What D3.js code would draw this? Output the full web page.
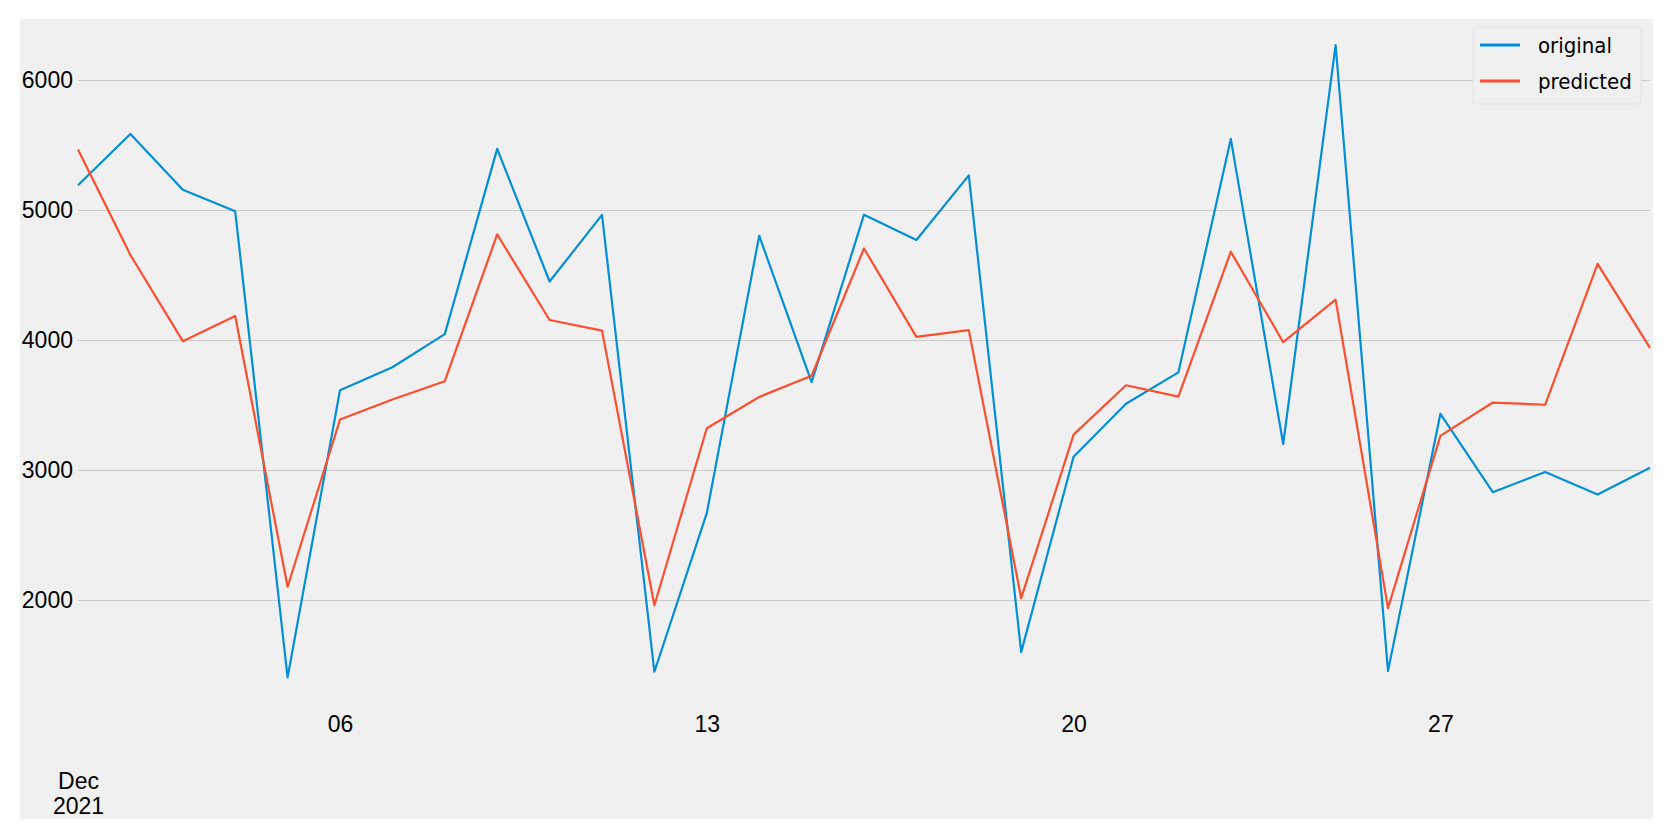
<!DOCTYPE html>
<html>
<head>
<meta charset="utf-8">
<script src="https://cdn.jsdelivr.net/npm/d3@7"></script>
<style>
  body { margin: 0; background: #fff; }
  svg { display: block; font-family: "DejaVu Sans", sans-serif; font-stretch: condensed; }
  .axis text { font-size: 23px; fill: #000; }
  .legend text { font-size: 22px; fill: #000; }
</style>
</head>
<body>
<svg id="chart" width="1675" height="839"></svg>
<script>
const dates = [
  "2021-12-01", "2021-12-02", "2021-12-03", "2021-12-04", "2021-12-05", "2021-12-06",
  "2021-12-07", "2021-12-08", "2021-12-09", "2021-12-10", "2021-12-11", "2021-12-12",
  "2021-12-13", "2021-12-14", "2021-12-15", "2021-12-16", "2021-12-17", "2021-12-18",
  "2021-12-19", "2021-12-20", "2021-12-21", "2021-12-22", "2021-12-23", "2021-12-24",
  "2021-12-25", "2021-12-26", "2021-12-27", "2021-12-28", "2021-12-29", "2021-12-30",
  "2021-12-31"
];

const original = [
  5190, 5585, 5155, 4990, 1405, 3613, 3790, 4045, 5470, 4450, 4962, 1448,
  2668, 4802, 3676, 4964, 4769, 5266, 1599, 3102, 3510, 3751, 5547, 3200,
  6269, 1453, 3432, 2829, 2985, 2812, 3017
];

const predicted = [
  5466, 4654, 3991, 4184, 2102, 3388, 3542, 3683, 4812, 4154, 4072, 1960,
  3321, 3562, 3725, 4704, 4024, 4076, 2014, 3272, 3652, 3564, 4679, 3983,
  4311, 1937, 3262, 3519, 3502, 4586, 3939
];

const yTicks = [2000, 3000, 4000, 5000, 6000];
const xTickDates = ["2021-12-01", "2021-12-06", "2021-12-13", "2021-12-20", "2021-12-27"];

const seriesNames = ["original", "predicted"];
const colors = ["#008fd5", "#fc4f30"];

const svg = d3.select("#chart");
const parse = d3.timeParse("%Y-%m-%d");

const days = dates.map(parse);

// figure background
svg.append("rect")
  .attr("x", 20)
  .attr("y", 19)
  .attr("width", 1633)
  .attr("height", 800)
  .attr("fill", "#f0f0f0");

const x = d3.scaleTime()
  .domain(d3.extent(days))
  .range([78, 1650]);

const y = d3.scaleLinear()
  .domain([2000, 6000])
  .range([600, 80]);

// y axis with gridlines
const yAxis = svg.append("g")
  .attr("class", "axis")
  .attr("transform", `translate(${x.range()[0]}, 0)`)
  .call(d3.axisLeft(y)
    .tickValues(yTicks)
    .tickSize(-(x.range()[1] - x.range()[0]))
    .tickPadding(5)
    .tickFormat(d3.format("d")));

yAxis.select(".domain").remove();
yAxis.selectAll(".tick line")
  .attr("stroke", "#cbcbcb")
  .attr("stroke-width", 1);

// x axis
const xAxis = svg.append("g")
  .attr("class", "axis")
  .attr("transform", "translate(0, 700)")
  .call(d3.axisBottom(x)
    .tickValues(xTickDates.map(parse))
    .tickSize(0)
    .tickPadding(16)
    .tickFormat(d3.timeFormat("%d")));

xAxis.select(".domain").remove();
xAxis.selectAll(".tick text")
  .each(function(d) {
    if (d.getDate() === 1) {
      const t = d3.select(this).text("");
      t.append("tspan").attr("x", 0).attr("dy", "3.17em").text(d3.timeFormat("%b")(d));
      t.append("tspan").attr("x", 0).attr("dy", "1.09em").text(d3.timeFormat("%Y")(d));
    }
  });

// lines
const line = d3.line()
  .x((d, i) => x(days[i]))
  .y(d => y(d));

[original, predicted].forEach((values, i) => {
  svg.append("path")
    .datum(values)
    .attr("fill", "none")
    .attr("stroke", colors[i])
    .attr("stroke-width", 2.2)
    .attr("stroke-linejoin", "round")
    .attr("d", line);
});

// legend
const legend = svg.append("g")
  .attr("class", "legend")
  .attr("transform", "translate(1473, 27)");

legend.append("rect")
  .attr("width", 168)
  .attr("height", 77)
  .attr("rx", 4)
  .attr("fill", "#f0f0f0")
  .attr("stroke", "#e2e2e2")
  .attr("stroke-width", 1);

seriesNames.forEach((name, i) => {
  const row = legend.append("g")
    .attr("transform", `translate(0, ${18 + i * 36})`);

  row.append("line")
    .attr("x1", 7)
    .attr("x2", 47)
    .attr("stroke", colors[i])
    .attr("stroke-width", 2.8);

  row.append("text")
    .attr("x", 65)
    .attr("y", 8)
    .text(name);
});
</script>
</body>
</html>
